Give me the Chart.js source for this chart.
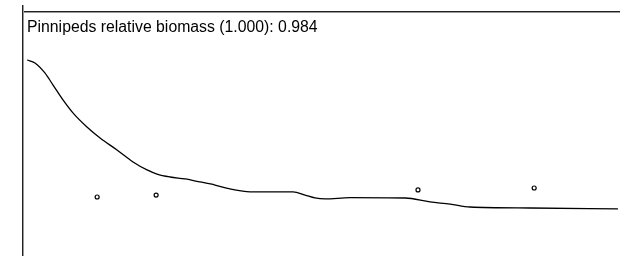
<!DOCTYPE html>
<html>
<head>
<meta charset="utf-8">
<script src="https://cdn.jsdelivr.net/npm/chart.js@4/dist/chart.umd.min.js"></script>
<style>
  html, body { margin: 0; padding: 0; background: #fff; }
  #wrap { width: 620px; height: 256px; position: relative; }
</style>
</head>
<body>
<div id="wrap"><canvas id="biomass"></canvas></div>
<script>
// 曲线标题
const titleText = 'Pinnipeds relative biomass (1.000): 0.984';

// 模型曲线 (年, 相对生物量)
const curveYears = [0.14, 0.41, 0.75, 1.03, 1.37, 1.71, 2.19, 2.64, 3.22, 3.77, 4.25, 4.59,
    5.04, 5.55, 6.06, 6.58, 7.09, 7.78, 9.25, 9.66, 10.00, 10.35, 11.20, 13.09, 13.94,
    14.63, 15.31, 17.37, 20.38];
const curveValues = [1.000, 0.985, 0.934, 0.872, 0.796, 0.730, 0.658, 0.602, 0.541, 0.480,
    0.439, 0.418, 0.403, 0.393, 0.378, 0.362, 0.342, 0.327, 0.327, 0.311, 0.296, 0.291,
    0.298, 0.296, 0.276, 0.265, 0.250, 0.245, 0.240];

// 观测点
const obsYears = [2.54, 4.56, 13.53, 17.51];
const obsValues = [0.301, 0.311, 0.337, 0.347];

const xMin = 0, xMax = 20.45;
const yMin = 0, yMax = 1.25;

// 画边框和标题
const framePlugin = {
    id: 'frame',
    beforeDatasetsDraw(chart) {
        const { ctx, chartArea } = chart;
        ctx.save();
        ctx.fillStyle = '#222';
        ctx.fillRect(chartArea.left - 1, 5, 1, chart.height - 5);
        ctx.fillRect(chartArea.left - 1, chartArea.top, chart.width - chartArea.left + 1, 1);
        ctx.fillStyle = '#999';
        ctx.fillRect(chartArea.left, 5, 1, chart.height - 5);
        ctx.fillRect(chartArea.left, chartArea.top + 1, chart.width - chartArea.left, 1);
        ctx.fillStyle = '#000';
        ctx.font = '15.8px "Liberation Sans", Arial, sans-serif';
        ctx.textBaseline = 'alphabetic';
        ctx.fillText(titleText, chartArea.left + 4, 32);
        ctx.restore();
    }
};

const ctx = document.getElementById('biomass').getContext('2d');
new Chart(ctx, {
    type: 'scatter',
    data: {
        datasets: [{
            type: 'line',
            data: curveYears.map((x, i) => ({ x: x, y: curveValues[i] })),
            borderColor: '#000',
            borderWidth: 1.3,
            pointRadius: 0,
            fill: false,
            cubicInterpolationMode: 'monotone'
        }, {
            data: obsYears.map((x, i) => ({ x: x, y: obsValues[i] })),
            pointRadius: 2,
            pointBorderWidth: 1.2,
            pointBorderColor: '#000',
            pointBackgroundColor: '#fff'
        }]
    },
    options: {
        responsive: true,
        maintainAspectRatio: false,
        animation: false,
        layout: { autoPadding: false, padding: { left: 23, top: 11, right: 0, bottom: 0 } },
        plugins: {
            legend: { display: false },
            tooltip: { enabled: false }
        },
        scales: {
            x: { type: 'linear', min: xMin, max: xMax, display: false },
            y: { type: 'linear', min: yMin, max: yMax, display: false }
        }
    },
    plugins: [framePlugin]
});
</script>
</body>
</html>
